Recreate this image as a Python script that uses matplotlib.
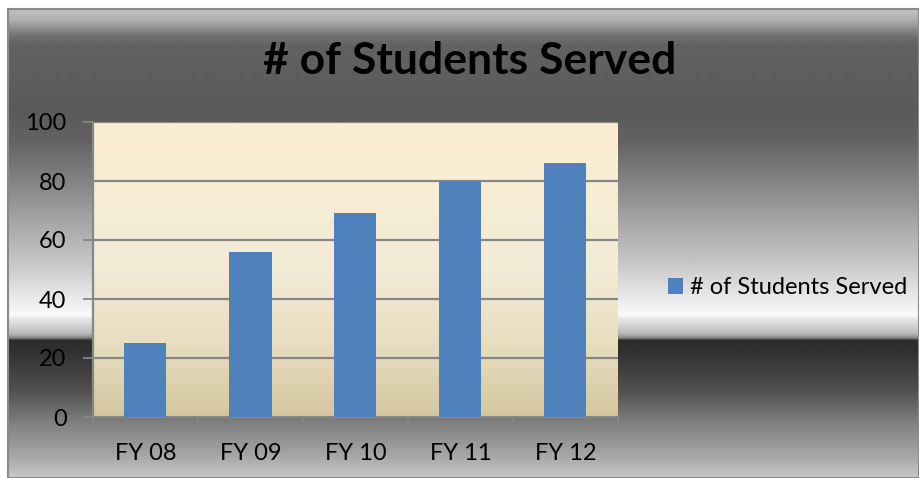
import numpy as np
import matplotlib
matplotlib.use("Agg")
import matplotlib.pyplot as plt
from matplotlib.patches import Rectangle

categories = ["FY 08", "FY 09", "FY 10", "FY 11", "FY 12"]
students = [25, 56, 69, 80, 86]
series_name = "# of Students Served"
yticks = [0, 20, 40, 60, 80, 100]

W, H = 920, 478
plt.rcParams['font.family'] = ['Lato', 'DejaVu Sans']
fig = plt.figure(figsize=(W / 100, H / 100), dpi=100)

# metallic background (pixel rows from top -> gray level)
bg = fig.add_axes([8 / W, 0, (W - 8) / W, (H - 8) / H], zorder=0)
stops_y = [8, 20, 35, 45, 110, 140, 180, 220, 260, 300, 315, 318, 325, 333, 337, 340, 350, 390, 423, 457, 478]
stops_g = [195, 175, 115, 98, 90, 98, 130, 165, 196, 235, 250, 232, 212, 185, 140, 44, 48, 80, 128, 168, 200]
rows = np.arange(8, H)
g = np.interp(rows, stops_y, stops_g) / 255
bg.imshow(np.repeat(g[:, None], 2, axis=1), cmap="gray", vmin=0, vmax=1, aspect="auto", interpolation="bilinear")
bg.set_axis_off()
fig.patches.append(Rectangle((8 / W, 0), (W - 9) / W, (H - 8.5) / H, transform=fig.transFigure,
                             fill=False, ec="#8a8a8a", lw=1.5, zorder=1))

ax = fig.add_axes([93 / W, (H - 417) / H, 525 / W, 295 / H], zorder=2)
x = np.arange(len(categories))
# plot-area gradient
pv = [0, 25, 50, 100]
pc = np.array([[212, 198, 160], [232, 222, 192], [242, 235, 214], [252, 238, 210]]) / 255
vals = np.linspace(100, 0, 300)
grad = np.stack([np.interp(vals, pv, pc[:, i]) for i in range(3)], axis=1)
ax.imshow(grad[:, None, :].repeat(2, axis=1), extent=[-0.5, 4.5, 0, 100], aspect="auto", zorder=0)

for t in yticks[1:]:
    ax.axhline(t, color="#878787", lw=1.6, zorder=1)
ax.bar(x, students, width=0.4, color="#4F81BD", zorder=3, label=series_name)
ax.set_xlim(-0.5, 4.5)
ax.set_ylim(0, 100)
ax.set_yticks(yticks)
ax.set_xticks(x)
ax.set_xticklabels(categories)
ax.set_xticks(np.arange(-0.5, 5, 1), minor=True)
ax.tick_params(axis="y", length=7, width=1.3, color="#878787", pad=12, labelsize=17)
ax.tick_params(axis="x", which="major", length=0, pad=19, labelsize=17)
ax.tick_params(axis="x", which="minor", length=5, width=1.3, color="#878787")
for s in ["top", "right"]:
    ax.spines[s].set_visible(False)
for s in ["left", "bottom"]:
    ax.spines[s].set_color("#878787")
    ax.spines[s].set_linewidth(1.6)

fig.text(470 / W, 1 - 61 / H, "# of Students Served", ha="center", va="center",
         fontsize=32, fontweight="bold")

fig.legend(loc="center left", bbox_to_anchor=(656 / W, 1 - 288 / H), frameon=False,
           fontsize=17, handlelength=0.65, handleheight=0.65, handletextpad=0.3, borderpad=0)

fig.savefig("out.png", dpi=100)
